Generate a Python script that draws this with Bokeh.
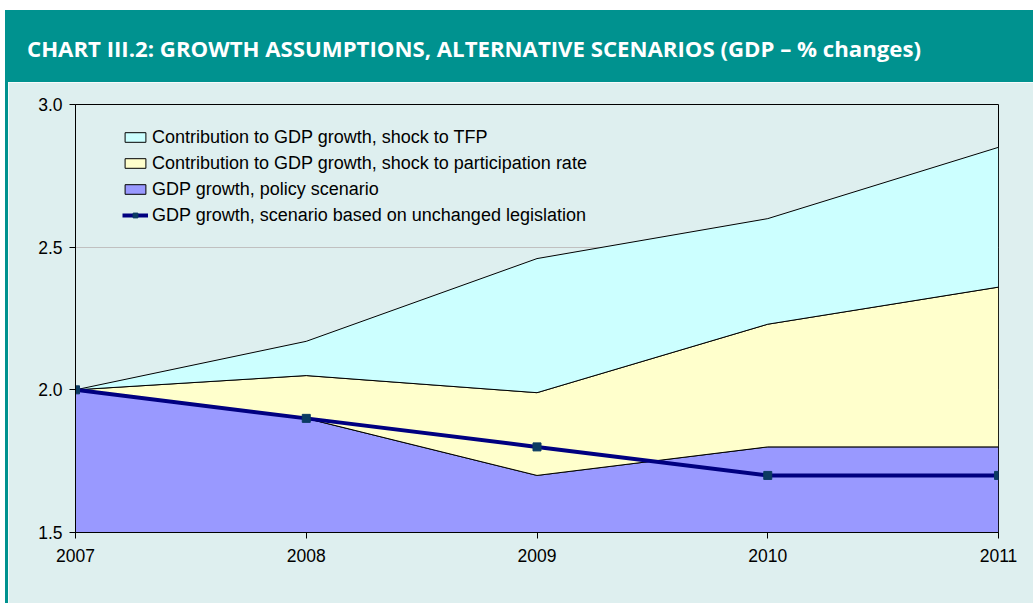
from bokeh.plotting import figure
from bokeh.models import Div, Spacer, Legend, LegendItem, FixedTicker, NumeralTickFormatter, Range1d
from bokeh.layouts import column, row
from bokeh.embed import file_html
from bokeh.resources import INLINE

# ---- data ----
years = [2007, 2008, 2009, 2010, 2011]
policy = [2.0, 1.9, 1.7, 1.8, 1.8]
participation_contrib = [0.0, 0.15, 0.29, 0.43, 0.56]
tfp_contrib = [0.0, 0.12, 0.47, 0.37, 0.49]
unchanged = [2.0, 1.9, 1.8, 1.7, 1.7]
y_ticks = [1.5, 2.0, 2.5, 3.0]
title_text = "CHART III.2: GROWTH ASSUMPTIONS, ALTERNATIVE SCENARIOS (GDP – % changes)"
labels = [
    "Contribution to GDP growth, shock to TFP",
    "Contribution to GDP growth, shock to participation rate",
    "GDP growth, policy scenario",
    "GDP growth, scenario based on unchanged legislation",
]

TEAL = "#00928f"
PANEL = "#deefef"
Y0 = 1.5

lvl1 = policy
lvl2 = [a + b for a, b in zip(lvl1, participation_contrib)]
lvl3 = [a + b for a, b in zip(lvl2, tfp_contrib)]
rev = years[::-1]

p = figure(width=1025, height=521, output_backend="svg", toolbar_location=None,
           x_range=Range1d(2007, 2011), y_range=Range1d(1.5, 3.0),
           min_border_left=67, min_border_right=35, min_border_top=22, min_border_bottom=71,
           margin=0)
p.background_fill_color = PANEL
p.border_fill_color = PANEL
p.outline_line_color = "black"
p.outline_line_width = 1

r_pol = p.patch(years + rev, lvl1 + [Y0] * len(years), fill_color="#9999ff", line_color="black", line_width=1)
r_par = p.patch(years + rev, lvl2 + lvl1[::-1], fill_color="#ffffcc", line_color="black", line_width=1)
r_tfp = p.patch(years + rev, lvl3 + lvl2[::-1], fill_color="#ccffff", line_color="black", line_width=1)
r_line = p.line(years, unchanged, line_color="#000080", line_width=4)
r_mk = p.scatter(years, unchanged, marker="square", size=8, fill_color="#0b3b62", line_color="#0b3b62")

p.xgrid.visible = False
p.ygrid.grid_line_color = "#c0c0c0"
p.ygrid.grid_line_width = 1

p.xaxis.ticker = FixedTicker(ticks=years)
p.yaxis.ticker = FixedTicker(ticks=y_ticks)
p.yaxis.formatter = NumeralTickFormatter(format="0.0")
for ax in (p.xaxis[0], p.yaxis[0]):
    ax.axis_line_color = "black"
    ax.axis_line_width = 1
    ax.major_tick_line_color = "black"
    ax.major_tick_out = 6
    ax.major_tick_in = 0
    ax.minor_tick_line_color = None
    ax.major_label_text_font = "Liberation Sans"
    ax.major_label_text_font_size = "17.5px"
    ax.major_label_text_color = "black"
p.xaxis.major_label_standoff = 10
p.yaxis.major_label_standoff = 7

legend = Legend(items=[
    LegendItem(label=labels[0], renderers=[r_tfp]),
    LegendItem(label=labels[1], renderers=[r_par]),
    LegendItem(label=labels[2], renderers=[r_pol]),
    LegendItem(label=labels[3], renderers=[r_line, r_mk]),
], location=(47, 304))
legend.background_fill_alpha = 0
legend.border_line_alpha = 0
legend.padding = 0
legend.margin = 0
legend.spacing = 0
legend.label_height = 26
legend.glyph_height = 12
legend.glyph_width = 26
legend.label_standoff = 4
legend.label_text_font = "Liberation Sans"
legend.label_text_font_size = "18px"
legend.label_text_color = "black"
p.add_layout(legend, "center")

title = Div(text=f'<div style="position:relative; top:3px; line-height:72px; padding-left:22px; color:white; '
                 f'font-family:\'Open Sans\'; font-weight:700; font-size:22.2px; white-space:nowrap;">{title_text}</div>',
            width=1028, height=72, margin=0, styles={"background-color": TEAL, "overflow": "hidden"})
edge = Div(text="", width=3, height=521, margin=0, styles={"background-color": TEAL})

layout = row(
    Spacer(width=5, height=10, margin=0),
    column(Spacer(height=10, width=1028, margin=0), title, row(edge, p, spacing=0, margin=0), spacing=0, margin=0),
    spacing=0, margin=0)

open("out.html", "w").write(file_html(layout, INLINE))
